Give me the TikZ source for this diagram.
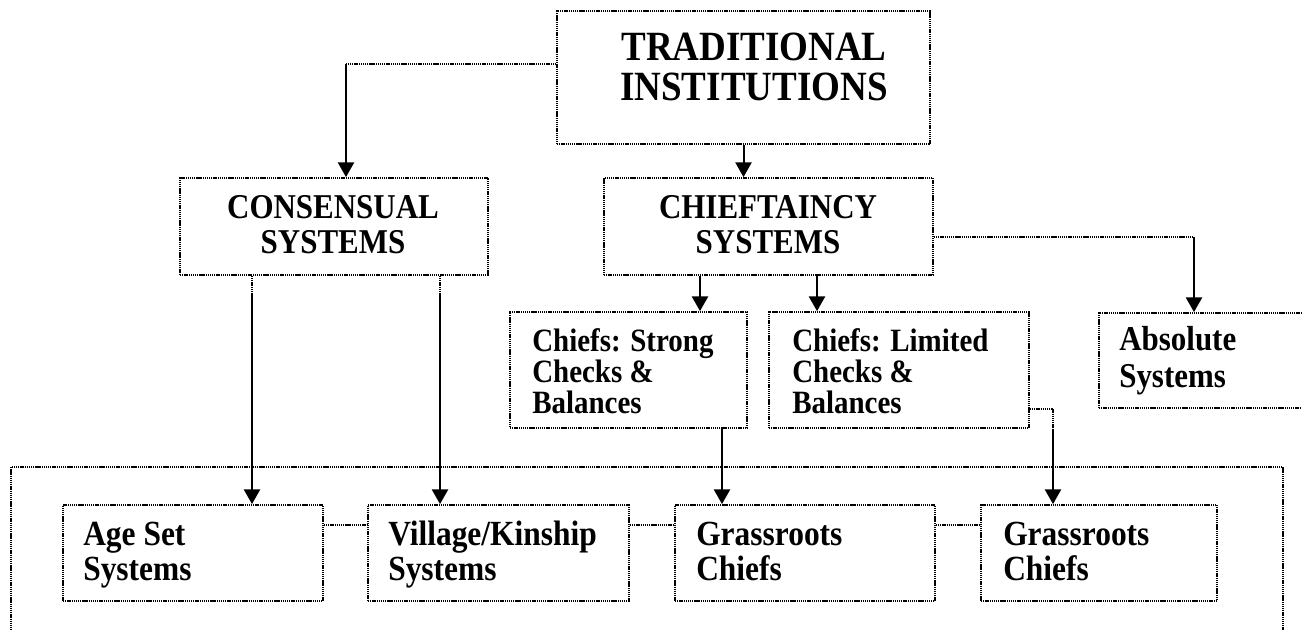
\documentclass[tikz,border=0pt]{standalone}
\usepackage{fontspec}
\setmainfont{Liberation Serif}[FakeStretch=0.89]
\usetikzlibrary{arrows.meta,fit,calc}
\tikzset{
  box/.style={draw, line width=1.3pt, dash pattern=on 1pt off 0.6pt, inner sep=0pt},
  dline/.style={line width=1.3pt, dash pattern=on 1pt off 0.6pt},
  arr/.style={line width=1.5pt, -{Triangle[width=12pt,length=11pt]}},
  tbig/.style={font=\fontsize{31.2}{30}\selectfont\bfseries, align=center, inner sep=0pt, anchor=base},
  tmid/.style={font=\fontsize{26.1}{26.25}\selectfont\bfseries, align=center, inner sep=0pt, anchor=base},
  tsmall/.style={font=\fontsize{24.4}{23.25}\selectfont\bfseries, align=left, inner sep=0pt, anchor=base west},
  tbot/.style={font=\fontsize{26.5}{26.25}\selectfont\bfseries, align=left, inner sep=0pt, anchor=base west},
  tabs/.style={font=\fontsize{26.1}{27.75}\selectfont\bfseries, align=left, inner sep=0pt, anchor=base west},
}
\begin{document}
\begin{tikzpicture}[x=0.75pt, y=-0.75pt]
\useasboundingbox (0,0) rectangle (1302,630);
\clip (0,0) rectangle (1302,630);
% boxes
\node[box, fit={(557,11) (930,144)}] (trad) {};
\node[box, fit={(180,178) (488,275)}] (cons) {};
\node[box, fit={(604,178) (933,275)}] (chief) {};
\node[box, fit={(510,312) (747,428)}] (strong) {};
\node[box, fit={(769,312) (1029,428)}] (limited) {};
\node[box, fit={(1099,313) (1330,408)}] (abs) {};
\node[box, fit={(11,467) (1283,660)}] (outer) {};
\node[box, fit={(63,505) (323,601)}] (age) {};
\node[box, fit={(368,505) (629,601)}] (village) {};
\node[box, fit={(675,505) (935,601)}] (grass1) {};
\node[box, fit={(981,505) (1217,601)}] (grass2) {};
% texts (anchored at the baseline of the last line)
\node[tbig] (tradT) at (754,101) {TRADITIONAL\\INSTITUTIONS};
\node[tmid] (consT) at (333,254) {CONSENSUAL\\SYSTEMS};
\node[tmid] (chiefT) at (768,254) {CHIEFTAINCY\\SYSTEMS};
\node[tsmall] (strongT) at (532,414) {Chiefs: Strong\\Checks \&\\Balances};
\node[tsmall] (limitedT) at (792,414) {Chiefs: Limited\\Checks \&\\Balances};
\node[tabs] (absT) at (1119,388) {Absolute\\Systems};
\node[tbot] (ageT) at (83,580) {Age Set\\Systems};
\node[tbot] (villageT) at (388,580) {Village/Kinship\\Systems};
\node[tbot] (grass1T) at (696,580) {Grassroots\\Chiefs};
\node[tbot] (grass2T) at (1003,580) {Grassroots\\Chiefs};
% helper coordinates
\coordinate (cA) at (346,64);
\coordinate (cB) at (1194,237);
\coordinate (xA) at (700,0);
\coordinate (xB) at (817,0);
\coordinate (xC) at (722,0);
\coordinate (cD) at (1053,409);
\coordinate (cE) at (1053,440);
\coordinate (cF) at (252,293);
\coordinate (cG) at (440,293);
\coordinate (yH) at (0,525);
% connectors
\draw[dline] (trad.west |- cA) -- (cA);
\draw[arr] (cA) -- (cons.north -| cA);
\draw[arr] (trad.south) -- (trad.south |- chief.north);
\draw[dline] (chief.east |- cB) -- (cB);
\draw[arr] (cB) -- (abs.north -| cB);
\draw[arr] (chief.south -| xA) -- (strong.north -| xA);
\draw[arr] (chief.south -| xB) -- (limited.north -| xB);
\draw[arr] (strong.south -| xC) -- (grass1.north -| xC);
\draw[dline] (limited.east |- cD) -- (cD) -- (cE);
\draw[arr] (cD |- limited.south) -- (grass2.north -| cD);
\draw[dline] (cons.south -| cF) -- (cF);
\draw[arr] (cF) -- (age.north -| cF);
\draw[dline] (cons.south -| cG) -- (cG);
\draw[arr] (cG) -- (village.north -| cG);
\draw[dline] (age.east |- yH) -- (village.west |- yH);
\draw[dline] (village.east |- yH) -- (grass1.west |- yH);
\draw[dline] (grass1.east |- yH) -- (grass2.west |- yH);
\end{tikzpicture}
\end{document}
